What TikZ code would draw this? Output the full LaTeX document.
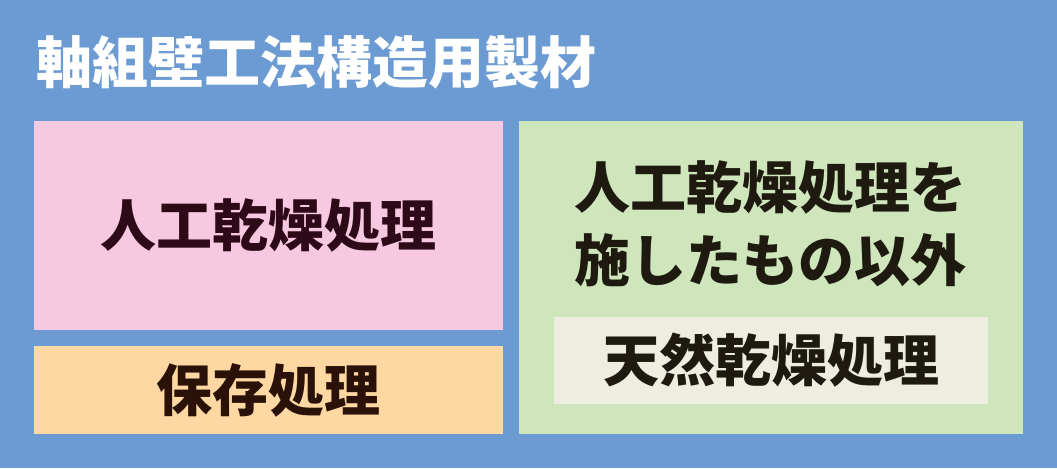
\documentclass[tikz,border=0pt]{standalone}
\usepackage{fontspec}
\newfontfamily\cjk{Noto Sans CJK JP}
\definecolor{bgblue}{HTML}{6B9BD2}
\definecolor{boxpink}{HTML}{F7C9E0}
\definecolor{boxorange}{HTML}{FDD8A2}
\definecolor{boxgreen}{HTML}{CFE6BD}
\definecolor{boxinner}{HTML}{EDEEE0}
\definecolor{txtpink}{HTML}{2E0A18}
\definecolor{txtdark}{HTML}{1E1A10}
\definecolor{txtbrown}{HTML}{2A1208}
\tikzset{
  panel/.style={rectangle, inner sep=0pt, draw=none},
  label/.style={inner sep=0pt, font=\cjk\bfseries\fontsize{42}{54.75}\selectfont, align=center},
}
\begin{document}
\begin{tikzpicture}[x=0.75pt,y=-0.75pt]
\fill[bgblue] (0,0) rectangle (1057,468);
\useasboundingbox (0,0) rectangle (1057,468);
\node[label, text=white, anchor=west] (title) at (36,62) {軸組壁工法構造用製材};
\node[panel, fill=boxpink, minimum width=351.75pt, minimum height=156.75pt] (pink) at (268.5,225.5) {};
\node[label, text=txtpink] (pinktxt) at (pink.center) {人工乾燥処理};
\node[panel, fill=boxorange, minimum width=351.75pt, minimum height=66pt] (orange) at (268.5,390) {};
\node[label, text=txtbrown] (orangetxt) at (orange.center) {保存処理};
\node[panel, fill=boxgreen, minimum width=378pt, minimum height=234.75pt] (green) at (771,277.5) {};
\node[label, text=txtdark] (greentxt) at (770,224) {人工乾燥処理を\\施したもの以外};
\node[panel, fill=boxinner, minimum width=325.5pt, minimum height=65.25pt] (inner) at (771,360.5) {};
\node[label, text=txtdark] (innertxt) at (inner.center) {天然乾燥処理};
\end{tikzpicture}
\end{document}
